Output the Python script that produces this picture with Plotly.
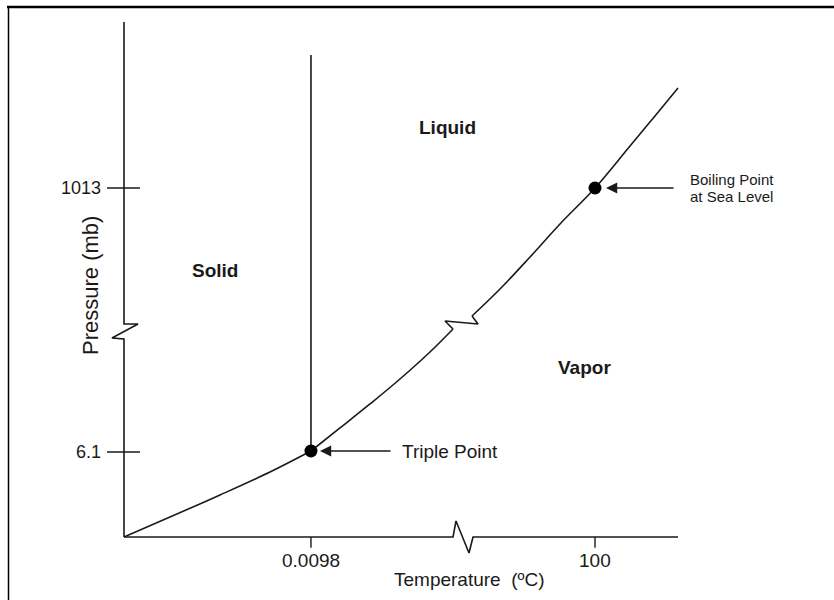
import plotly.graph_objects as go

# ---- schematic coordinates (0-100 along each drawn axis) ----
# phase boundary: solid-vapor (sublimation) curve
subl_x = [0, 8.3, 17.33, 26.35, 33.75]
subl_y = [0, 3.88, 8.16, 12.62, 16.70]
# liquid-vapor curve, below the break
vap_lo_x = [33.75, 38.99, 44.40, 49.82, 55.23, 59.39]
vap_lo_y = [16.70, 21.17, 25.83, 30.68, 35.92, 40.39]
# break symbol on the curve
vap_brk_x = [59.39, 57.94, 63.90, 62.82]
vap_brk_y = [40.39, 41.94, 41.36, 42.91]
# liquid-vapor curve, above the break
vap_hi_x = [62.82, 67.87, 73.29, 78.70, 85.02, 91.34, 95.85, 100.0]
vap_hi_y = [42.91, 48.16, 54.37, 60.78, 67.77, 75.92, 81.75, 87.18]
# solid-liquid (melting) line
melt_x = [33.75, 33.75]
melt_y = [16.70, 93.6]

# axes with break symbols
yaxis_x = [0, 0, 2.53, -2.17, 0, 0]
yaxis_y = [100, 41.36, 41.36, 38.64, 38.45, 0]
xaxis_x = [0, 59.39, 59.93, 62.27, 63.0, 100]
xaxis_y = [0, 0, 3.11, -3.11, 0, 0]

# ticks
ytick_vals = [16.50, 67.77]
ytick_text = ["6.1", "1013"]
xtick_vals = [33.75, 85.02]
xtick_text = ["0.0098", "100"]

# labelled points
pts_x = [33.75, 85.02]
pts_y = [16.70, 67.77]

regions = ["Liquid", "Solid", "Vapor"]
region_x = [58.48, 16.43, 83.21]
region_y = [79.42, 51.84, 33.01]

INK = "#1a1a1a"
FONT = "Liberation Sans, Arial, sans-serif"
LW = 1.6

fig = go.Figure()

def line(x, y, w=LW, shape="linear"):
    fig.add_trace(go.Scatter(x=x, y=y, mode="lines", line=dict(color=INK, width=w, shape=shape),
                             hoverinfo="skip", showlegend=False))

line(yaxis_x, yaxis_y)
line(xaxis_x, xaxis_y)
line(subl_x, subl_y, shape="spline")
line(vap_lo_x, vap_lo_y, shape="spline")
line(vap_brk_x, vap_brk_y)
line(vap_hi_x, vap_hi_y, shape="spline")
line(melt_x, melt_y)

# tick marks
for v in ytick_vals:
    line([-3.07, 2.89], [v, v], 1.4)
for v in xtick_vals:
    line([v, v], [0, -2.1], 1.4)

fig.add_trace(go.Scatter(x=pts_x, y=pts_y, mode="markers",
                         marker=dict(color="black", size=13),
                         hoverinfo="skip", showlegend=False, cliponaxis=False))

ann = []
for v, t in zip(ytick_vals, ytick_text):
    ann.append(dict(x=-3.79, y=v, text=t, xanchor="right", yanchor="middle", showarrow=False,
                    font=dict(size=18, color=INK, family=FONT)))
for v, t in zip(xtick_vals, xtick_text):
    ann.append(dict(x=v, y=-4.47, text=t, xanchor="center", yanchor="middle", showarrow=False,
                    font=dict(size=19, color=INK, family=FONT)))
ann.append(dict(x=62.45, y=-8.16, text="Temperature  (ºC)", xanchor="center", yanchor="middle",
                showarrow=False, font=dict(size=19, color=INK, family=FONT)))
ann.append(dict(x=-6.14, y=48.93, text="Pressure (mb)", textangle=-90, xanchor="center",
                yanchor="middle", showarrow=False, font=dict(size=22, color=INK, family=FONT)))
for t, x, y in zip(regions, region_x, region_y):
    ann.append(dict(x=x, y=y, text="<b>" + t + "</b>", showarrow=False, xanchor="center",
                    yanchor="middle", font=dict(size=19, color=INK, family=FONT)))
# arrows
ann.append(dict(x=pts_x[0], y=pts_y[0], ax=48.38, ay=pts_y[0], axref="x", ayref="y", text="",
                showarrow=True, arrowhead=2, arrowsize=1.4, arrowwidth=1.6, arrowcolor=INK, standoff=9))
ann.append(dict(x=49.82, y=pts_y[0], text="Triple Point", xanchor="left", yanchor="middle",
                showarrow=False, font=dict(size=19, color=INK, family=FONT)))
ann.append(dict(x=pts_x[1], y=pts_y[1], ax=99.46, ay=pts_y[1], axref="x", ayref="y", text="",
                showarrow=True, arrowhead=2, arrowsize=1.4, arrowwidth=1.6, arrowcolor=INK, standoff=11))
ann.append(dict(x=101.8, y=pts_y[1] + 1.6, text="Boiling Point", xanchor="left",
                yanchor="middle", showarrow=False, font=dict(size=15, color=INK, family=FONT)))
ann.append(dict(x=101.8, y=pts_y[1] - 1.7, text="at Sea Level", xanchor="left",
                yanchor="middle", showarrow=False, font=dict(size=15, color=INK, family=FONT)))

W, H = 834, 600
xl = [-124 / 5.54, (W - 124) / 5.54]
yl = [-(H - 537) / 5.15, 537 / 5.15]

fig.update_layout(
    width=W, height=H,
    margin=dict(l=0, r=0, t=0, b=0),
    paper_bgcolor="white", plot_bgcolor="white",
    xaxis=dict(range=xl, visible=False, domain=[0, 1], fixedrange=True),
    yaxis=dict(range=yl, visible=False, domain=[0, 1], fixedrange=True),
    annotations=ann,
    shapes=[
        dict(type="line", xref="paper", yref="paper", x0=7 / W, x1=1, y0=1 - 7 / H, y1=1 - 7 / H,
             line=dict(color="black", width=2.5)),
        dict(type="line", xref="paper", yref="paper", x0=8.5 / W, x1=8.5 / W, y0=0, y1=1 - 6 / H,
             line=dict(color="black", width=1.5)),
    ],
)

fig.write_html("out.html", config={"displayModeBar": False},
               post_script="document.body.style.margin='0';document.body.style.overflow='hidden';")
